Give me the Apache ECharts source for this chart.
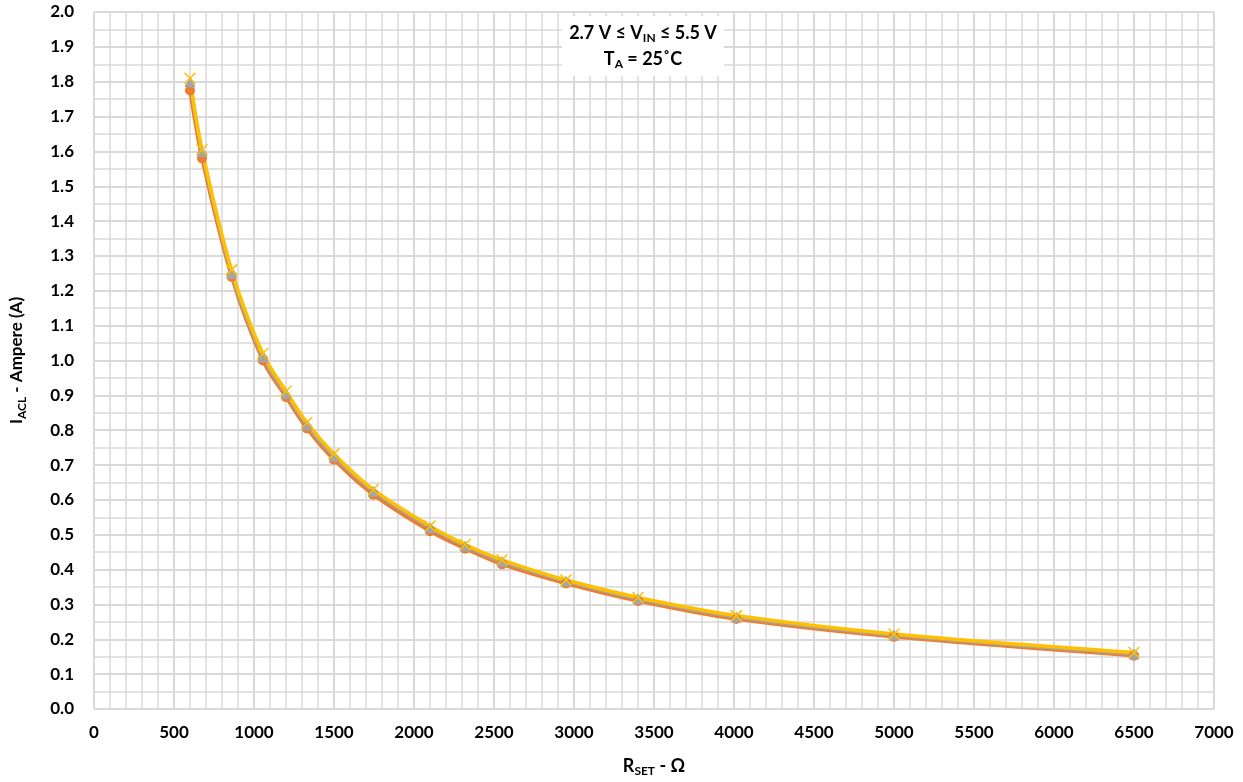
<!DOCTYPE html>
<html>
<head>
<meta charset="utf-8">
<script src="https://cdn.jsdelivr.net/npm/echarts@6/dist/echarts.min.js"></script>
<style>
  html, body { margin: 0; padding: 0; background: #fff; }
  #chart { width: 1243px; height: 782px; }
</style>
</head>
<body>
<div id="chart"></div>
<script>
// R_SET in ohms
const rset = [600, 675, 860, 1055, 1200, 1330, 1500, 1745, 2100, 2320, 2550, 2950, 3400, 4015, 5000, 6500];
// I_ACL in amperes, one array per curve
const blueVals   = [1.790, 1.595, 1.250, 1.010, 0.900, 0.812, 0.722, 0.622, 0.517, 0.465, 0.420, 0.365, 0.314, 0.262, 0.210, 0.157];
const orangeVals = [1.775, 1.580, 1.240, 1.000, 0.895, 0.805, 0.715, 0.615, 0.510, 0.460, 0.415, 0.360, 0.310, 0.258, 0.207, 0.153];
const grayVals   = [1.800, 1.600, 1.250, 1.010, 0.905, 0.815, 0.725, 0.625, 0.520, 0.468, 0.423, 0.367, 0.316, 0.264, 0.212, 0.158];
const yellowVals = [1.810, 1.605, 1.260, 1.020, 0.912, 0.822, 0.732, 0.630, 0.525, 0.472, 0.428, 0.370, 0.320, 0.268, 0.215, 0.162];

const FONT = 'Lato, "Open Sans", sans-serif';
const crossPath = 'path://M0,0L10,10M10,0L0,10';

const pairs = vals => rset.map((x, i) => [x, vals[i]]);

const mkSeries = (vals, color, symbol, size, extra) => Object.assign({
  type: 'line',
  data: pairs(vals),
  smooth: 0.35,
  symbol: symbol,
  symbolSize: size,
  lineStyle: { color: color, width: 3.5 },
  itemStyle: { color: color },
  z: 2
}, extra || {});

const chart = echarts.init(document.getElementById('chart'));
chart.setOption({
  animation: false,
  grid: { left: 94, right: 29, top: 12, bottom: 73 },
  xAxis: {
    type: 'value',
    min: 0, max: 7000, interval: 500,
    axisLine: { show: false },
    axisTick: { show: false },
    axisLabel: { color: '#000', fontFamily: FONT, fontWeight: 'bold', fontSize: 17, margin: 15,
      formatter: v => String(v) },
    splitLine: { show: true, lineStyle: { color: '#d9d9d9', width: 2 } },
    minorTick: { show: false, splitNumber: 5 },
    minorSplitLine: { show: true, lineStyle: { color: '#d9d9d9', width: 1.5 } },
    name: '{b|R}{s|SET}{b| - Ω}',
    nameLocation: 'middle',
    nameGap: 46,
    nameTextStyle: {
      rich: {
        b: { fontFamily: FONT, fontWeight: 'bold', fontSize: 18, color: '#000' },
        s: { fontFamily: FONT, fontWeight: 'bold', fontSize: 12, color: '#000', padding: [10, 0, 0, 0] }
      }
    }
  },
  yAxis: {
    type: 'value',
    min: 0, max: 2, interval: 0.1,
    axisLine: { show: false },
    axisTick: { show: false },
    axisLabel: { color: '#000', fontFamily: FONT, fontWeight: 'bold', fontSize: 17, margin: 20,
      formatter: v => v.toFixed(1) },
    splitLine: { show: true, lineStyle: { color: '#d9d9d9', width: 2 } },
    minorTick: { show: false, splitNumber: 2 },
    minorSplitLine: { show: true, lineStyle: { color: '#d9d9d9', width: 1.5 } },
    name: '{b|I}{s|ACL}{b| - Ampere (A)}',
    nameLocation: 'middle',
    nameRotate: 90,
    nameGap: 66,
    nameTextStyle: {
      rich: {
        b: { fontFamily: FONT, fontWeight: 'bold', fontSize: 17, color: '#000' },
        s: { fontFamily: FONT, fontWeight: 'bold', fontSize: 12, color: '#000', padding: [10, 0, 0, 0] }
      }
    }
  },
  series: [
    mkSeries(blueVals, '#4472c4', 'diamond', 10),
    mkSeries(orangeVals, '#ed7d31', 'circle', 10),
    mkSeries(grayVals, '#a5a5a5', 'triangle', 11),
    mkSeries(yellowVals, '#ffc000', crossPath, 11, {
      itemStyle: { color: 'none', borderColor: '#ffc000', borderWidth: 1.5 }
    })
  ],
  graphic: [{
    type: 'group',
    left: 562, top: 16,
    z: 100,
    children: [
      { type: 'rect', z: 100, shape: { x: 0, y: 0, width: 162, height: 60 }, style: { fill: '#ffffff' } },
      {
        type: 'text', z: 101, x: 81, y: 30,
        style: {
          text: '{b|2.7 V ≤ V}{s|IN}{b| ≤ 5.5 V}\n{b|T}{s|A}{b| = 25˚C}',
          align: 'center', verticalAlign: 'middle',
          rich: {
            b: { fontFamily: FONT, fontWeight: 'bold', fontSize: 18, fill: '#000', lineHeight: 26 },
            s: { fontFamily: FONT, fontWeight: 'bold', fontSize: 12, fill: '#000', lineHeight: 26, padding: [10, 0, 0, 0] }
          }
        }
      }
    ]
  }]
});
</script>
</body>
</html>
